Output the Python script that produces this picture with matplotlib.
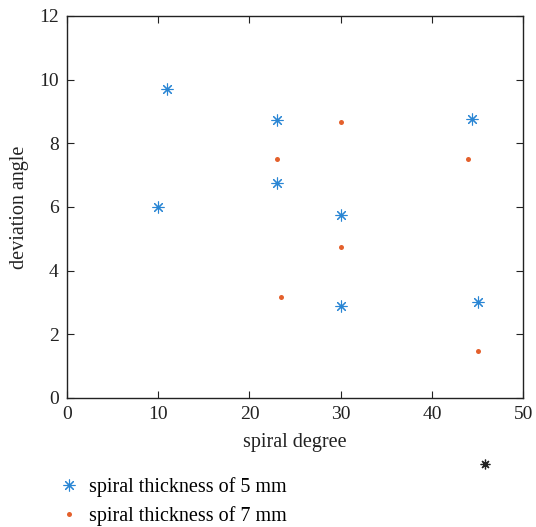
import matplotlib.pyplot as plt
from matplotlib.lines import Line2D

plt.rcParams['font.family'] = ['Liberation Serif', 'DejaVu Serif']

# spiral thickness 5 mm
x5 = [10, 11, 23, 23, 30, 30, 44.4, 45]
y5 = [6.0, 9.72, 8.74, 6.74, 5.75, 2.9, 8.77, 3.0]

# spiral thickness 7 mm
x7 = [23, 23.5, 30, 30, 44, 45]
y7 = [7.5, 3.18, 8.68, 4.75, 7.5, 1.48]

fig = plt.figure(figsize=(5.36, 5.27), dpi=100)
ax = fig.add_axes([0.125, 0.2448, 0.851, 0.725])

ax.plot(x5, y5, linestyle='none', marker=(8, 2, 0), markersize=8.5, color='#2a86d4',
        markeredgewidth=0.8, label='spiral thickness of 5 mm')
ax.plot(x7, y7, linestyle='none', marker='o', markersize=3.6, color='#e4602c',
        markeredgewidth=0, label='spiral thickness of 7 mm')

ax.set_xlim(0, 50)
ax.set_ylim(0, 12)
ax.set_xticks([0, 10, 20, 30, 40, 50])
ax.set_yticks([0, 2, 4, 6, 8, 10, 12])
ax.tick_params(direction='in', top=True, right=True, length=5, width=0.8,
               labelsize=14, colors='#222222', pad=6)
for s in ax.spines.values():
    s.set_linewidth(1.0)
    s.set_color('#222222')

ax.set_xlabel('spiral degree', fontsize=14.5, color='#222222', labelpad=7)
ax.set_ylabel('deviation angle', fontsize=14.5, color='#222222', labelpad=7)

fig.legend(loc='upper left', bbox_to_anchor=(0.095, 0.11), frameon=False,
           fontsize=14.5, handlelength=1.0, handletextpad=0.5, labelspacing=0.45,
           borderaxespad=0)

# stray marker under the axis label
fig.add_artist(Line2D([485 / 536], [1 - 464 / 527], transform=fig.transFigure,
                      marker=(8, 2, 0), markersize=7, color='#222222',
                      markeredgewidth=0.9, linestyle='none'))

fig.savefig('out.png', dpi=100)
